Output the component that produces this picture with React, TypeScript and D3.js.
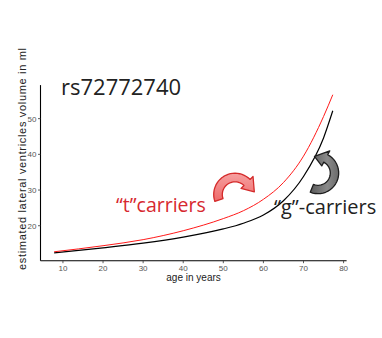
import React from "react";
import * as d3 from "d3";

// Fitted volume curves (age in years -> ml)
const ages = [7.8, 20, 30, 40, 50, 55, 60, 65, 70, 75, 77.3];
const tVolumes = [12.7, 14.4, 16.1, 18.6, 22.0, 24.2, 27.4, 32.1, 39.5, 50.6, 56.7];
const gVolumes = [12.4, 13.8, 15.1, 16.8, 19.1, 20.7, 23.0, 27.0, 33.8, 44.6, 52.2];

const xTicks = [10, 20, 30, 40, 50, 60, 70, 80];
const yTicks = [20, 30, 40, 50];

const title = "rs72772740";
const tLabel = "\u201Ct\u201Dcarriers";
const gLabel = "\u201Cg\u201D-carriers";
const xTitle = "age in years";
const yTitle = "estimated lateral ventricles volume in ml";

const W = 382;
const H = 338;

// Curved block arrow: arc band from a0 to a1 (degrees, math orientation),
// then a triangular head ending at the tip angle.
function curvedArrow(
  cx: number, cy: number, r: number, hw: number,
  a0: number, a1: number, headW: number, tipA: number, tipR: number
) {
  const pt = (rad: number, deg: number) => {
    const t = (deg * Math.PI) / 180;
    return [cx + rad * Math.cos(t), cy - rad * Math.sin(t)];
  };
  const p = d3.path();
  const steps = 24;
  const outer: number[][] = [];
  const inner: number[][] = [];
  for (let i = 0; i <= steps; i++) {
    const a = a0 + ((a1 - a0) * i) / steps;
    outer.push(pt(r + hw, a));
    inner.push(pt(r - hw, a));
  }
  p.moveTo(outer[0][0], outer[0][1]);
  outer.forEach((q) => p.lineTo(q[0], q[1]));
  const hb1 = pt(r + headW, a1);
  const tip = pt(tipR, tipA);
  const hb2 = pt(r - headW, a1);
  p.lineTo(hb1[0], hb1[1]);
  p.lineTo(tip[0], tip[1]);
  p.lineTo(hb2[0], hb2[1]);
  inner.reverse().forEach((q) => p.lineTo(q[0], q[1]));
  p.closePath();
  return p.toString();
}

export default function App() {
  const x = d3.scaleLinear().domain([4.4, 80.75]).range([40.5, 346.6]);
  const y = d3.scaleLinear().domain([10.2, 59.4]).range([260.7, 85.1]);

  const line = d3
    .line<[number, number]>()
    .x((d) => x(d[0]))
    .y((d) => y(d[1]))
    .curve(d3.curveMonotoneX);

  const tData = ages.map((a, i) => [a, tVolumes[i]] as [number, number]);
  const gData = ages.map((a, i) => [a, gVolumes[i]] as [number, number]);

  const [x0, x1] = x.range();
  const [yb, yt] = y.range();

  const redArrow = curvedArrow(235, 194.5, 17, 4.3, 199, 45, 8.5, 8, 19.5);
  const grayArrow = curvedArrow(318, 173, 16.5, 4.2, -112, 62, 8.5, 102, 17);

  const axisFont = "Liberation Sans, Arial, sans-serif";
  const labelFont = "Open Sans, Noto Sans, sans-serif";

  return (
    <svg
      width={W}
      height={H}
      style={{ position: "absolute", left: 0, top: 0, background: "#fff" }}
    >
      <defs>
        <linearGradient id="redFill" x1="0" y1="0" x2="0" y2="1">
          <stop offset="0" stopColor="#f6a0a0" />
          <stop offset="1" stopColor="#ee6a6a" />
        </linearGradient>
        <linearGradient id="grayFill" x1="0" y1="0" x2="1" y2="0">
          <stop offset="0" stopColor="#5a5a5a" />
          <stop offset="0.6" stopColor="#8a8a8a" />
          <stop offset="1" stopColor="#6a6a6a" />
        </linearGradient>
      </defs>

      {/* axes */}
      <line x1={x0} x2={x0} y1={yt} y2={yb} stroke="#000" strokeWidth={1.1} />
      <line x1={x0} x2={x1} y1={yb} y2={yb} stroke="#000" strokeWidth={1.1} />

      {xTicks.map((t) => (
        <g key={"x" + t}>
          <line x1={x(t)} x2={x(t)} y1={yb} y2={yb + 2.5} stroke="#333" strokeWidth={0.8} />
          <text x={x(t)} y={yb + 10} textAnchor="middle" fontFamily={axisFont} fontSize={8} fill="#555">
            {t}
          </text>
        </g>
      ))}
      {yTicks.map((t) => (
        <g key={"y" + t}>
          <line x1={x0 - 2.5} x2={x0} y1={y(t)} y2={y(t)} stroke="#333" strokeWidth={0.8} />
          <text x={x0 - 4} y={y(t) + 3} textAnchor="end" fontFamily={axisFont} fontSize={8} fill="#555">
            {t}
          </text>
        </g>
      ))}

      <text x={(x0 + x1) / 2} y={281} textAnchor="middle" fontFamily={axisFont} fontSize={10} fill="#222">
        {xTitle}
      </text>
      <text
        transform={`translate(25.5,159) rotate(-90)`}
        textAnchor="middle"
        fontFamily={axisFont}
        fontSize={11}
        textLength={222}
        lengthAdjust="spacing"
        fill="#222"
      >
        {yTitle}
      </text>

      {/* curves */}
      <path d={line(gData) || ""} fill="none" stroke="#000" strokeWidth={1.2} />
      <path d={line(tData) || ""} fill="none" stroke="#ff1a1a" strokeWidth={1} />

      {/* annotations */}
      <text x={61} y={94.5} fontFamily={labelFont} fontSize={22} fill="#222">
        {title}
      </text>
      <text x={116} y={212} fontFamily={labelFont} fontSize={19.5} fill="#d7282f">
        {tLabel}
      </text>
      <text x={274} y={214} fontFamily={labelFont} fontSize={20} fill="#222">
        {gLabel}
      </text>

      <path d={redArrow} fill="url(#redFill)" stroke="#d42a2a" strokeWidth={1.3} strokeLinejoin="round" />
      <path d={grayArrow} fill="url(#grayFill)" stroke="#1e1e1e" strokeWidth={1.3} strokeLinejoin="round" />
    </svg>
  );
}
